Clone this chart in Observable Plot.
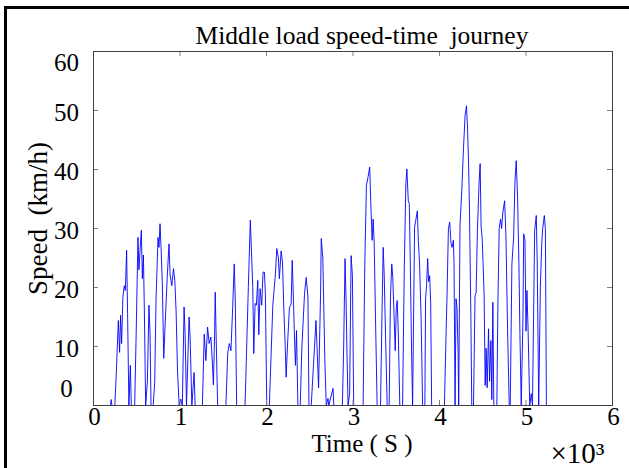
<!DOCTYPE html>
<html><head><meta charset="utf-8">
<script src="https://cdn.jsdelivr.net/npm/d3@7"></script>
<script src="https://cdn.jsdelivr.net/npm/@observablehq/plot@0.6"></script>
<style>
html,body{margin:0;padding:0;background:#fff;overflow:hidden}
#wrap{position:relative;width:629px;height:468px;overflow:hidden}
#wrap svg{position:absolute;left:0;top:0}
#border{position:absolute;left:4px;top:6px;width:700px;height:600px;border-left:3px solid #000;border-top:3px solid #000;pointer-events:none;z-index:2}
</style></head><body><div id="wrap"><div id="border"></div></div>
<script>
// Time (s)
const time = [0,197,205,213,247,267,287,302,313,325,340,356,368,383,394,409,426,437,476,493,514,525,537,553,565,577,588,603,623,641,653,665,690,708,723,746,757,769,781,795,812,829,853,873,885,905,925,940,955,971,990,1009,1027,1047,1059,1075,1105,1117,1137,1163,1175,1259,1280,1299,1319,1337,1357,1375,1386,1400,1407,1419,1435,1531,1551,1570,1589,1609,1627,1639,1655,1752,1790,1813,1841,1853,1868,1883,1899,1911,1926,1945,1960,1976,1987,2003,2033,2073,2103,2119,2138,2149,2169,2185,2201,2216,2227,2247,2265,2285,2297,2312,2323,2335,2347,2363,2390,2409,2440,2459,2479,2491,2517,2572,2587,2602,2625,2633,2651,2662,2674,2691,2711,2720,2769,2778,2877,2892,2908,2920,2931,2943,2961,2978,2993,3008,3117,3136,3155,3175,3193,3205,3221,3233,3245,3260,3279,3318,3337,3349,3361,3376,3395,3418,3433,3448,3460,3472,3488,3500,3511,3523,3541,3573,3593,3611,3623,3639,3651,3662,3677,3689,3698,3712,3727,3744,3755,3770,3787,3805,3831,3839,3851,3863,3874,3886,3898,3909,4057,4072,4087,4103,4118,4133,4145,4161,4168,4180,4191,4203,4215,4222,4237,4257,4277,4296,4312,4324,4335,4347,4362,4373,4393,4411,4423,4439,4458,4470,4481,4493,4504,4516,4528,4539,4551,4567,4579,4594,4605,4617,4628,4663,4675,4690,4706,4718,4733,4753,4768,4787,4806,4818,4837,4857,4872,4887,4903,4918,4930,4945,4965,4973,4988,5000,5011,5023,5043,5061,5075,5100,5119,5130,5147,5166,5182,5193,5212,5224,5236];
// Speed (km/h)
const speed = [0,0,1.0,0,0,6.8,14.4,9.0,15.3,10.5,18.4,20.3,19.5,26.3,15.6,0,6.8,0,0,12,28.5,23,26,29.7,21.5,25.5,16,0,4,17,12.5,0,0,4,18,28.5,26.8,30.8,26.8,21,8,14,22,27.4,22.3,20.3,23.2,21.2,16,6,0,1.1,0,16.7,12.2,0,15,11.6,0,5.6,0,0,12.1,7.6,13.3,10.5,11.6,7,3.5,12,19.2,11,0,0,8.8,10.5,9.3,16.6,24,17.8,0,0,20,31.4,20.2,8.8,17.3,17,21.2,12,19.8,17,22.6,22.6,19,0,0,17,22.3,26.6,25,21.5,26.2,24.3,16,10.2,4.8,11.5,16.6,17.2,24.6,17.8,11.6,6.8,12.7,0,0,9.9,19,21.7,18.4,0,0,14.4,8.8,3,19,28.3,25,17,8,0,1.2,0,2.9,0,0,9.9,24.9,17.8,8.2,0,2,25.4,22,0,0,23.7,37.3,38.8,40.4,34.6,28,31.6,27.5,15,0,0,17,26.8,22,12,0,0,18.4,24,21.7,16.5,9.3,16.6,17.8,12.7,0,0,23.4,37.6,40.1,34.7,34.2,24.5,9.3,0,12,30.2,31.5,33,28,24,15,0,0,18.1,20.5,24.9,21,22,17.5,0,0,9.7,18.6,30,31.1,27.5,26.8,28,24,0,18.1,16.5,9,0,30.5,36.2,43.5,49.2,50.8,47,41.8,32.8,15.8,0,0,18.6,19.1,30,37.9,41,30.4,28.4,24,18.6,3.4,9.7,3,13,4.1,11,1,17.5,0,0,17,30,31.6,30,32.8,34.7,28.8,13,0,0,24,28.5,37.9,41.5,35,24,12,0,15,29.1,28,12.6,19.5,13.5,0,2,0,29.7,32.2,24,0,20,27.5,30,32.2,30,0];

const xTicks = [0,1000,2000,3000,4000,5000,6000];
const xTickLabels = ["0","1","2","3","4","5","6"];
const yTicks = [0,10,20,30,40,50,60];
const titleText = "Middle load speed-time  journey";
const xLabel = "Time ( S )";
const yLabel = "Speed  (km/h)";
const xMultiplier = "×10³";

const data = time.map((t, i) => ({t, v: speed[i]}));

const W = 629, H = 468, mL = 93, mR = 17, mT = 51, mB = 63;
const plotW = W - mL - mR, plotH = H - mT - mB;
const font = "Liberation Serif";

const chart = Plot.plot({
  width: W, height: H,
  marginLeft: mL, marginRight: mR, marginTop: mT, marginBottom: mB,
  x: {domain: [0, 6000], axis: null},
  y: {domain: [0, 60], axis: null},
  style: {fontFamily: font, background: "white", color: "black", overflow: "visible"},
  marks: [
    Plot.lineY(data, {x: "t", y: "v", stroke: "#0000ff", strokeWidth: 0.9}),
    Plot.ruleX(xTicks.slice(1, -1), {stroke: "#808080", insetTop: plotH - 5}),
    Plot.ruleX(xTicks.slice(1, -1), {stroke: "#808080", insetBottom: plotH - 5}),
    Plot.ruleY(yTicks.slice(1, -1), {stroke: "#808080", insetRight: plotW - 5}),
    Plot.ruleY(yTicks.slice(1, -1), {stroke: "#808080", insetLeft: plotW - 5}),
    Plot.frame({stroke: "#404040", strokeWidth: 1}),
    Plot.text(yTicks.slice(1, -1), {y: d => d, text: d => String(d), frameAnchor: "left", dx: -27, dy: 2, textAnchor: "middle", lineAnchor: "middle", fontSize: 25, fill: "black"}),
    Plot.text([yTicks[0]], {y: d => d, text: d => String(d), frameAnchor: "left", dx: -27, dy: -17, textAnchor: "middle", lineAnchor: "middle", fontSize: 25, fill: "black"}),
    Plot.text([yTicks[yTicks.length - 1]], {y: d => d, text: d => String(d), frameAnchor: "left", dx: -27, dy: 11, textAnchor: "middle", lineAnchor: "middle", fontSize: 25, fill: "black"}),
    Plot.text(xTicks, {x: d => d, text: (d, i) => xTickLabels[i], frameAnchor: "bottom", dx: 1, dy: 11, lineAnchor: "middle", fontSize: 25, fill: "black"}),
    Plot.text([titleText], {text: d => d, frameAnchor: "top", dx: 9, dy: -16, textAnchor: "middle", lineAnchor: "middle", fontSize: 25.5, fill: "black"}),
    Plot.text([xLabel], {text: d => d, frameAnchor: "bottom", dx: 9, dy: 38, textAnchor: "middle", lineAnchor: "middle", fontSize: 25, fill: "black"}),
    Plot.text([xMultiplier], {text: d => d, frameAnchor: "bottom-right", dx: -8, dy: 48, textAnchor: "end", lineAnchor: "middle", fontSize: 29, fill: "black"}),
    Plot.text([yLabel], {text: d => d, frameAnchor: "left", dx: -55, dy: -10, rotate: -90, textAnchor: "middle", lineAnchor: "middle", fontSize: 27, fill: "black"})
  ]
});
document.getElementById("wrap").appendChild(chart);
</script>
</body></html>
